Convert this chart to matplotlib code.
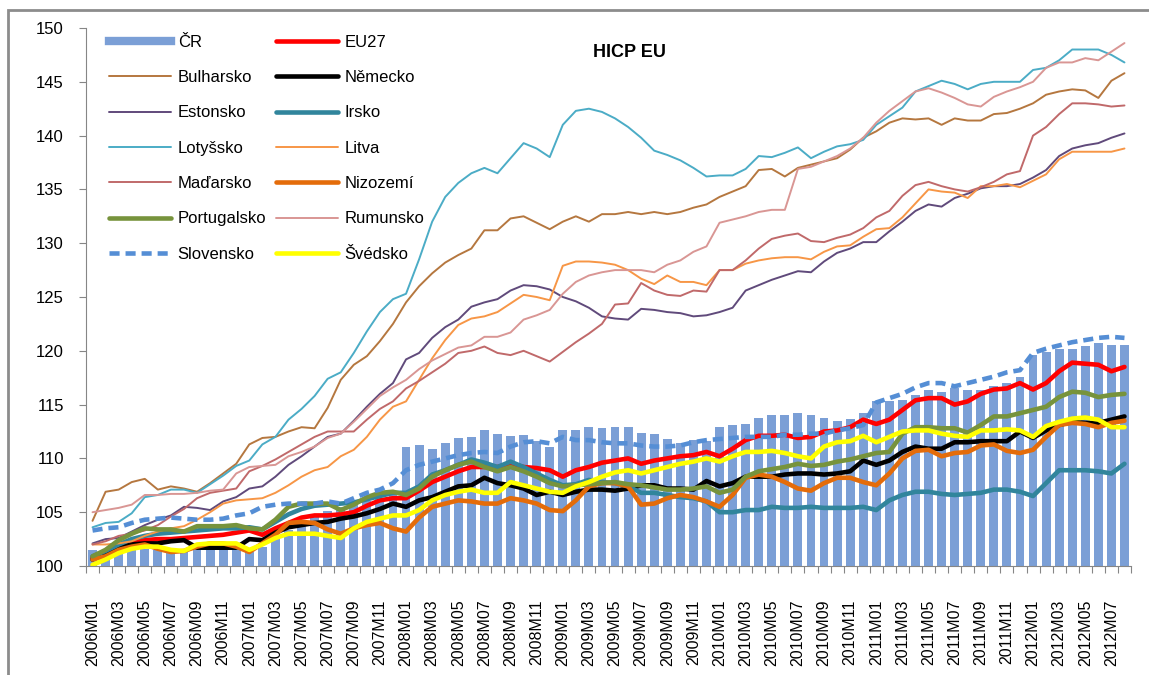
import numpy as np
import matplotlib
matplotlib.use('Agg')
import matplotlib.pyplot as plt
from matplotlib.lines import Line2D
from matplotlib.patches import Rectangle

plt.rcParams['font.family'] = ['Liberation Sans', 'DejaVu Sans']

# months 2006M01 .. 2012M08
years = [2006, 2007, 2008, 2009, 2010, 2011, 2012]
months = [f"{y}M{m:02d}" for y in years for m in range(1, 13)][:80]

cr = [101.5, 101.5, 101.6, 101.6, 101.6, 101.5, 101.3, 101.5, 101.7, 101.7, 101.6, 101.6,
      101.3, 101.8, 102.7, 103.3, 104.0, 104.6, 105.1, 105.5, 105.8, 106.0, 106.3, 106.6,
      111.1, 111.2, 110.9, 111.4, 111.9, 112.0, 112.6, 112.3, 112.1, 112.2, 111.6, 111.1,
      112.6, 112.6, 112.9, 112.8, 112.9, 112.9, 112.4, 112.3, 111.8, 111.4, 111.7, 111.6,
      112.9, 113.1, 113.2, 113.8, 114.0, 114.0, 114.2, 114.0, 113.8, 113.5, 113.7, 114.2,
      115.3, 115.3, 115.4, 115.9, 116.4, 116.2, 116.5, 116.4, 116.4, 116.7, 117.0, 117.6,
      119.6, 119.9, 120.2, 120.2, 120.4, 120.7, 120.5, 120.5]

eu27 = [100.8, 101.3, 101.9, 102.2, 102.4, 102.5, 102.5, 102.6, 102.7, 102.8, 102.9, 103.1,
        103.3, 102.9, 103.5, 104.0, 104.5, 104.7, 104.7, 104.8, 105.0, 105.6, 106.1, 106.3,
        106.3, 107.0, 107.8, 108.3, 108.8, 109.2, 109.2, 109.2, 109.5, 109.2, 109.1, 108.9,
        108.3, 108.9, 109.2, 109.6, 109.8, 110.0, 109.5, 109.8, 110.0, 110.2, 110.3, 110.6,
        110.2, 110.9, 111.7, 112.1, 112.1, 112.2, 111.9, 112.0, 112.5, 112.6, 112.9, 113.6,
        113.2, 113.6, 114.5, 115.4, 115.6, 115.6, 115.0, 115.3, 116.0, 116.4, 116.5, 117.0,
        116.4, 117.0, 118.1, 118.9, 118.8, 118.7, 118.1, 118.5]

bulharsko = [104.2, 106.9, 107.1, 107.8, 108.1, 107.1, 107.4, 107.2, 106.9, 107.7, 108.6, 109.5,
             111.3, 111.9, 112.0, 112.5, 112.9, 112.8, 114.7, 117.3, 118.7, 119.5, 120.9, 122.5,
             124.5, 126.0, 127.2, 128.2, 128.9, 129.5, 131.2, 131.2, 132.3, 132.5, 131.9, 131.3,
             132.0, 132.5, 132.0, 132.7, 132.7, 132.9, 132.7, 132.9, 132.7, 132.9, 133.3, 133.6,
             134.3, 134.8, 135.3, 136.8, 136.9, 136.2, 137.0, 137.3, 137.6, 137.9, 138.7, 139.8,
             140.4, 141.2, 141.6, 141.5, 141.6, 141.0, 141.6, 141.4, 141.4, 142.0, 142.1, 142.5,
             143.0, 143.8, 144.1, 144.3, 144.2, 143.5, 145.1, 145.8]

nemecko = [100.6, 101.2, 101.7, 102.0, 102.1, 102.1, 102.3, 102.4, 101.7, 101.7, 101.7, 101.7,
           102.5, 102.4, 103.1, 103.6, 103.8, 104.0, 104.1, 104.4, 104.6, 104.9, 105.3, 105.8,
           105.5, 106.1, 106.4, 106.9, 107.4, 107.5, 108.2, 107.7, 107.5, 107.2, 106.6, 106.9,
           106.6, 106.9, 107.1, 107.1, 107.0, 107.2, 107.5, 107.5, 107.2, 107.2, 107.1, 107.9,
           107.4, 107.7, 108.3, 108.3, 108.3, 108.5, 108.6, 108.6, 108.5, 108.6, 108.8, 109.8,
           109.4, 109.8, 110.6, 111.1, 110.9, 110.9, 111.5, 111.5, 111.6, 111.6, 111.6, 112.5,
           111.9, 112.6, 113.1, 113.4, 113.3, 113.3, 113.6, 113.9]

estonsko = [102.1, 102.5, 102.6, 103.2, 103.8, 104.3, 104.7, 105.5, 105.4, 105.2, 106.0, 106.4,
            107.2, 107.4, 108.3, 109.4, 110.2, 111.1, 112.0, 112.3, 113.5, 114.8, 116.0, 117.0,
            119.2, 119.8, 121.2, 122.2, 122.9, 124.1, 124.5, 124.8, 125.6, 126.1, 126.0, 125.7,
            125.0, 124.6, 124.0, 123.2, 123.0, 122.9, 123.9, 123.8, 123.6, 123.5, 123.2, 123.3,
            123.6, 124.0, 125.6, 126.1, 126.6, 127.0, 127.4, 127.3, 128.3, 129.1, 129.5, 130.1,
            130.1, 131.1, 132.0, 133.0, 133.6, 133.4, 134.2, 134.6, 135.1, 135.3, 135.3, 135.5,
            136.1, 136.8, 138.1, 138.8, 139.1, 139.3, 139.8, 140.2]

irsko = [100.9, 101.4, 102.0, 102.5, 102.8, 103.0, 103.1, 103.2, 103.3, 103.4, 103.5, 103.5,
         103.6, 103.4, 104.1, 104.8, 105.3, 105.6, 105.7, 105.8, 105.9, 106.2, 106.5, 106.8,
         106.8, 107.4, 108.5, 108.9, 109.4, 109.9, 109.6, 109.2, 109.7, 109.2, 108.6, 108.0,
         107.5, 107.6, 108.0, 107.8, 107.7, 107.4, 106.8, 106.8, 106.6, 106.4, 106.3, 106.0,
         105.0, 105.0, 105.2, 105.2, 105.5, 105.4, 105.4, 105.5, 105.4, 105.4, 105.4, 105.5,
         105.2, 106.1, 106.6, 106.9, 106.9, 106.7, 106.6, 106.7, 106.8, 107.1, 107.1, 106.9,
         106.5, 107.7, 108.9, 108.9, 108.9, 108.8, 108.6, 109.5]

lotyssko = [103.6, 104.0, 104.1, 104.9, 106.4, 106.6, 107.1, 107.1, 106.8, 107.6, 108.4, 109.3,
            109.8, 111.3, 112.0, 113.6, 114.6, 115.8, 117.4, 118.0, 119.8, 121.8, 123.6, 124.8,
            125.3, 128.5, 132.0, 134.3, 135.6, 136.5, 137.0, 136.5, 137.9, 139.3, 138.8, 138.0,
            141.0, 142.3, 142.5, 142.2, 141.6, 140.8, 139.8, 138.6, 138.2, 137.7, 137.0, 136.2,
            136.3, 136.3, 136.9, 138.1, 138.0, 138.4, 138.9, 137.9, 138.5, 139.0, 139.2, 139.6,
            141.0, 141.8, 142.6, 144.1, 144.6, 145.1, 144.8, 144.3, 144.8, 145.0, 145.0, 145.0,
            146.1, 146.3, 147.0, 148.0, 148.0, 148.0, 147.5, 146.8]

litva = [102.0, 102.0, 102.1, 102.3, 102.8, 103.2, 103.5, 103.7, 104.3, 105.0, 105.8, 106.1,
         106.2, 106.3, 106.8, 107.5, 108.3, 108.9, 109.2, 110.2, 110.8, 112.0, 113.6, 114.8,
         115.3, 117.3, 119.3, 121.0, 122.4, 123.0, 123.2, 123.6, 124.4, 125.2, 125.0, 124.7,
         127.9, 128.3, 128.3, 128.2, 128.0, 127.5, 126.7, 126.2, 127.0, 126.4, 126.4, 126.1,
         127.5, 127.5, 128.1, 128.4, 128.6, 128.7, 128.7, 128.5, 129.2, 129.7, 129.8, 130.6,
         131.3, 131.4, 132.4, 133.7, 135.0, 134.8, 134.7, 134.2, 135.3, 135.3, 135.5, 135.2,
         135.8, 136.4, 137.8, 138.5, 138.5, 138.5, 138.5, 138.8]

madarsko = [102.0, 102.3, 102.8, 103.0, 103.3, 103.8, 104.6, 105.3, 106.3, 106.8, 107.0, 107.2,
            108.8, 109.3, 109.9, 110.6, 111.3, 112.0, 112.5, 112.5, 112.5, 113.6, 114.6, 115.3,
            116.5, 117.2, 118.0, 118.8, 119.8, 120.0, 120.4, 119.8, 119.6, 120.0, 119.5, 119.0,
            119.9, 120.8, 121.6, 122.5, 124.3, 124.4, 126.3, 125.6, 125.2, 125.1, 125.6, 125.5,
            127.5, 127.5, 128.4, 129.5, 130.4, 130.7, 130.9, 130.2, 130.1, 130.5, 130.8, 131.4,
            132.4, 133.0, 134.4, 135.4, 135.7, 135.3, 135.0, 134.8, 135.2, 135.7, 136.4, 136.7,
            140.0, 140.8, 142.0, 143.0, 143.0, 142.9, 142.7, 142.8]

nizozemi = [100.6, 100.9, 101.5, 101.8, 102.0, 101.6, 101.3, 101.4, 101.8, 102.1, 102.1, 101.8,
            101.3, 102.1, 102.9, 104.0, 104.1, 104.0, 103.4, 103.0, 103.5, 103.8, 104.0, 103.5,
            103.2, 104.5, 105.5, 105.8, 106.1, 106.0, 105.8, 105.8, 106.3, 106.1, 105.8, 105.2,
            105.1, 106.1, 107.4, 107.7, 107.7, 107.4, 105.7, 105.8, 106.3, 106.6, 106.4, 106.0,
            105.5, 106.6, 108.2, 108.5, 108.3, 107.8, 107.2, 107.0, 107.7, 108.2, 108.2, 107.8,
            107.5, 108.6, 110.0, 110.7, 110.8, 110.2, 110.5, 110.6, 111.2, 111.3, 110.7, 110.5,
            110.8, 112.0, 113.1, 113.3, 113.2, 112.9, 113.3, 113.5]

portugalsko = [100.9, 101.5, 102.4, 103.0, 103.5, 103.4, 103.4, 103.2, 103.7, 103.7, 103.7, 103.8,
               103.5, 103.4, 104.3, 105.5, 105.8, 105.8, 105.8, 105.2, 105.7, 106.4, 106.8, 106.9,
               106.6, 107.2, 108.3, 108.9, 109.4, 109.7, 109.2, 108.8, 109.2, 108.8, 108.3, 107.7,
               107.4, 107.5, 107.6, 107.7, 107.8, 107.6, 107.5, 107.3, 107.1, 107.1, 107.2, 107.4,
               106.8, 107.1, 108.3, 108.8, 109.0, 109.2, 109.5, 109.3, 109.4, 109.7, 109.9, 110.2,
               110.5, 110.6, 112.3, 112.9, 112.9, 112.8, 112.8, 112.4, 113.1, 113.9, 113.9, 114.2,
               114.5, 114.8, 115.7, 116.2, 116.1, 115.7, 115.9, 116.0]

rumunsko = [105.0, 105.2, 105.4, 105.7, 106.6, 106.6, 106.7, 106.7, 106.8, 107.0, 107.1, 108.6,
            109.2, 109.3, 109.4, 110.2, 110.6, 111.1, 111.9, 112.3, 113.4, 114.6, 115.8, 116.6,
            117.3, 118.3, 119.1, 119.7, 120.3, 120.5, 121.3, 121.3, 121.7, 122.9, 123.3, 123.8,
            125.3, 126.4, 127.0, 127.3, 127.5, 127.5, 127.5, 127.3, 128.0, 128.4, 129.2, 129.7,
            131.9, 132.2, 132.5, 132.9, 133.1, 133.1, 136.9, 137.1, 137.6, 138.1, 138.8, 139.8,
            141.2, 142.3, 143.2, 144.1, 144.4, 144.0, 143.5, 142.9, 142.7, 143.6, 144.1, 144.5,
            145.0, 146.3, 146.8, 146.8, 147.2, 147.0, 147.8, 148.6]

slovensko = [103.3, 103.5, 103.6, 104.0, 104.3, 104.4, 104.5, 104.4, 104.3, 104.3, 104.4, 104.7,
             104.9, 105.5, 105.7, 105.8, 105.8, 105.8, 106.0, 105.8, 106.3, 106.8, 107.1, 107.7,
             108.9, 109.4, 109.7, 110.0, 110.3, 110.5, 110.6, 110.5, 111.1, 111.5, 111.6, 111.4,
             112.0, 111.7, 111.7, 111.5, 111.4, 111.4, 111.2, 111.1, 111.1, 111.2, 111.5, 111.7,
             111.8, 111.9, 112.0, 112.0, 112.0, 112.2, 112.2, 112.3, 112.3, 112.6, 112.8, 113.1,
             115.2, 115.6, 116.0, 116.6, 117.0, 117.0, 116.7, 117.0, 117.3, 117.6, 118.0, 118.2,
             119.8, 120.2, 120.5, 120.8, 121.0, 121.2, 121.3, 121.2]

svedsko = [100.1, 100.6, 101.2, 101.6, 101.8, 101.8, 101.5, 101.4, 102.0, 102.1, 102.1, 102.1,
           101.5, 102.0, 102.6, 103.0, 103.0, 103.0, 102.8, 102.6, 103.5, 104.1, 104.4, 104.7,
           104.7, 105.2, 106.1, 106.6, 106.9, 107.1, 106.8, 106.8, 107.8, 107.5, 107.2, 106.9,
           106.8, 107.4, 107.8, 108.3, 108.7, 108.9, 108.6, 108.9, 109.2, 109.5, 109.7, 110.0,
           109.7, 110.2, 110.6, 110.6, 110.7, 110.5, 110.2, 110.0, 111.1, 111.5, 111.6, 112.1,
           111.5, 112.0, 112.5, 112.6, 112.6, 112.3, 112.1, 112.0, 112.6, 112.6, 112.7, 112.6,
           112.0, 113.0, 113.4, 113.7, 113.8, 113.6, 112.9, 112.9]

# (label, values, color, linewidth, linestyle)
series = [
    ("EU27", eu27, "#FF0000", 3.3, "-"),
    ("Bulharsko", bulharsko, "#B5773F", 1.4, "-"),
    ("Německo", nemecko, "#000000", 3.3, "-"),
    ("Estonsko", estonsko, "#604A7B", 1.4, "-"),
    ("Irsko", irsko, "#31859C", 3.3, "-"),
    ("Lotyšsko", lotyssko, "#4BACC6", 1.4, "-"),
    ("Litva", litva, "#F79646", 1.4, "-"),
    ("Maďarsko", madarsko, "#C0696A", 1.4, "-"),
    ("Nizozemí", nizozemi, "#E46C0A", 3.3, "-"),
    ("Portugalsko", portugalsko, "#77933C", 3.3, "-"),
    ("Rumunsko", rumunsko, "#D99694", 1.4, "-"),
    ("Slovensko", slovensko, "#558ED5", 3.3, (0, (2.2, 1.3))),
    ("Švédsko", svedsko, "#FFFF00", 3.3, "-"),
]

fig = plt.figure(figsize=(11.49, 6.75), dpi=100)
ax = fig.add_axes([86 / 1149, 1 - 566 / 675, 1045 / 1149, 538 / 675])

x = np.arange(len(months))
ax.bar(x, cr, width=0.68, color="#7B9FD6", bottom=0, zorder=1)

handles = {}
handles["ČR"] = Line2D([], [], color="#7B9FD6", lw=6)
for name, vals, col, lw, ls in series:
    ln, = ax.plot(x, vals, color=col, lw=lw, ls=ls, zorder=2,
                  solid_joinstyle="round", solid_capstyle="round")
    handles[name] = ln

ax.set_ylim(100, 150)
ax.set_xlim(-0.5, len(months) - 0.5)
ax.set_yticks(np.arange(100, 151, 5))
ax.tick_params(axis="y", labelsize=12, length=5, color="#868686", pad=11)

ax.set_xticks(np.arange(-0.5, len(months), 1))
ax.set_xticklabels([])
ax.tick_params(axis="x", which="major", length=5, color="#868686")
ax.set_xticks(x[::2], minor=True)
ax.set_xticklabels(months[::2], minor=True, rotation=90, fontsize=11.5)
ax.tick_params(axis="x", which="minor", length=0, pad=24)

for s in ["top", "right"]:
    ax.spines[s].set_visible(False)
for s in ["left", "bottom"]:
    ax.spines[s].set_color("#868686")

ax.text(0.52, 0.955, "HICP EU", transform=ax.transAxes, ha="center", va="center",
        fontsize=13, fontweight="bold")

col1 = ["ČR", "Bulharsko", "Estonsko", "Lotyšsko", "Maďarsko", "Portugalsko", "Slovensko"]
col2 = ["EU27", "Německo", "Irsko", "Litva", "Nizozemí", "Rumunsko", "Švédsko"]
order = col1 + col2
ax.legend([handles[n] for n in order], order, ncol=2, loc="upper left",
          bbox_to_anchor=(0.016, 1.0), frameon=False, fontsize=12,
          handlelength=3.7, handletextpad=0.4, labelspacing=1.22,
          columnspacing=0.6, borderaxespad=0)

# outer chart border (cropped at right and bottom)
fig.add_artist(Rectangle((8 / 1149, -0.1), 1.2, 1.1 - 10 / 675, transform=fig.transFigure,
                         fill=False, edgecolor="#8C8C8C", lw=2))

fig.savefig("out.png", dpi=100)
